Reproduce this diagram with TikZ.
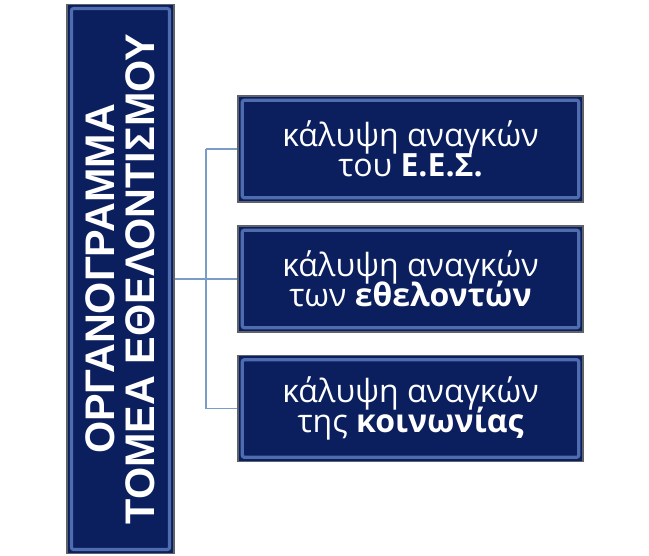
\documentclass[tikz,border=0pt]{standalone}
\usepackage{fontspec}
\usepackage{tikz}
\usetikzlibrary{positioning}
\newfontfamily\headfont{Liberation Sans}
\newfontfamily\boxfont{Open Sans}
\newcommand\tightlines{\lineskiplimit=-20pt\relax}
\definecolor{navy}{HTML}{0B1F5E}
\definecolor{bevelblue}{HTML}{4F6CAE}
\definecolor{rimgray}{HTML}{5F6266}
\definecolor{linkblue}{HTML}{7A9CC8}
\tikzset{
  bevel/.style={fill=navy,draw=rimgray,line width=1.2pt,
    path picture={\draw[bevelblue,line width=2.4pt,rounded corners=1.5pt]
      ([shift={(3.2pt,-3.2pt)}]path picture bounding box.north west) rectangle
      ([shift={(-3.2pt,3.2pt)}]path picture bounding box.south east);}},
  needbox/.style={minimum width=258.75pt,minimum height=79.5pt,align=center,
    font=\boxfont\fontsize{24}{22.5}\selectfont\tightlines},
  link/.style={linkblue,line width=1.1pt}
}
\begin{document}
\begin{tikzpicture}[x=0.75pt,y=-0.75pt]%
        \useasboundingbox (0,0) rectangle (649,556); %%
        \begin{scope}[inner sep=0pt]
        \tikzstyle{every node}=[bevel,text=white] %%
        \node[minimum width=80pt,minimum height=412pt] (org) at (120.5,279) {}; %%
        \node[needbox] (b1) at (410.5,149)  {κάλυψη αναγκών\\του \textbf{Ε.Ε.Σ.}}; %%
        \node[needbox] (b2) at (410.5,279)  {κάλυψη αναγκών\\των \textbf{εθελοντών}}; %%
        \node[needbox] (b3) at (410.5,408.5)  {κάλυψη αναγκών\\της \textbf{κοινωνίας}}; %%
        \end{scope}%
        \node[rotate=90,text=white,align=center,font=\headfont\bfseries\fontsize{31}{30}\selectfont] (orgtext) at (org) {ΟΡΓΑΝΟΓΡΑΜΜΑ\\ΤΟΜΕΑ ΕΘΕΛΟΝΤΙΣΜΟΥ}; %%
        \coordinate (j1) at (206,149); %%
        \coordinate (j3) at (206,408.5); %%
        \draw[link] (org)--(b2); %%
        \draw[link] (j1)--(j3); %%
        \draw[link] (j1)--(b1); %%
        \draw[link] (j3)--(b3); %%
        \end{tikzpicture}
\end{document}
